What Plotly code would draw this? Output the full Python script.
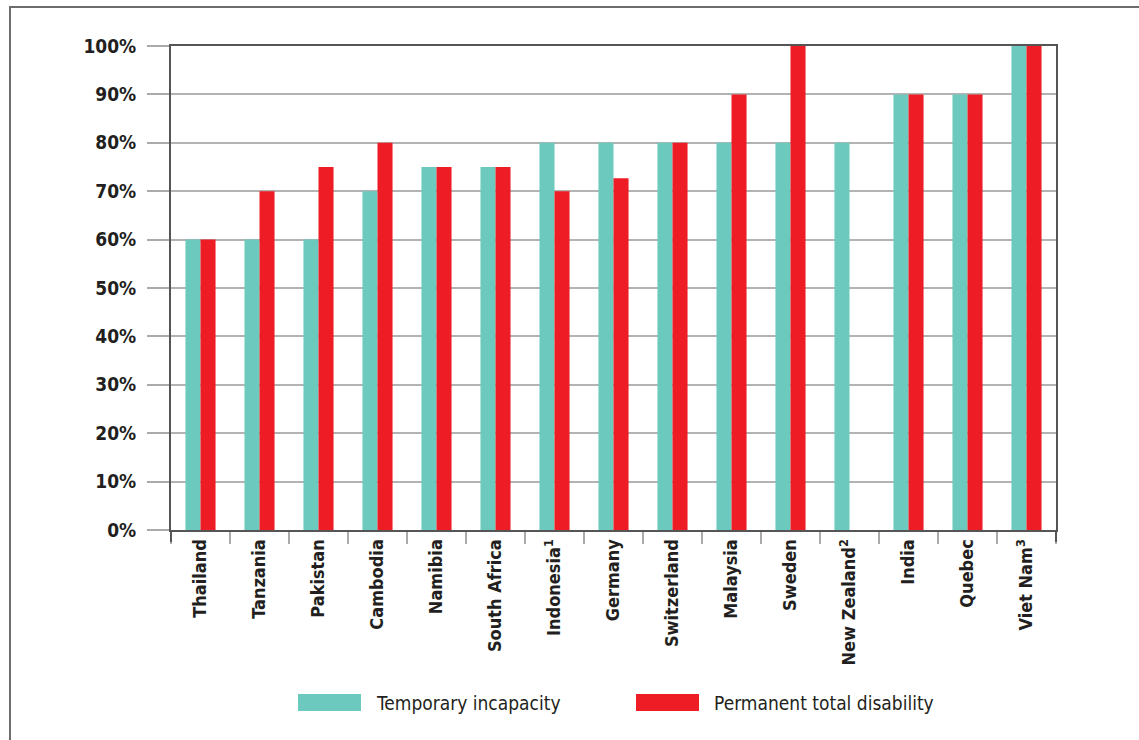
import plotly.graph_objects as go

# Replacement rates by country (% of insured earnings)
countries = [
    "Thailand", "Tanzania", "Pakistan", "Cambodia", "Namibia", "South Africa",
    "Indonesia<sup>1</sup>", "Germany", "Switzerland", "Malaysia", "Sweden",
    "New Zealand<sup>2</sup>", "India", "Quebec", "Viet Nam<sup>3</sup>",
]
temporary_incapacity = [60, 60, 60, 70, 75, 75, 80, 80, 80, 80, 80, 80, 90, 90, 100]
permanent_total_disability = [60, 70, 75, 80, 75, 75, 70, 72.7, 80, 90, 100, None, 90, 90, 100]

y_ticks = list(range(0, 101, 10))
y_tick_labels = [f"{v}%" for v in y_ticks]

TEAL = "#6cc9bd"
RED = "#ee1c25"
DARK = "#231f20"
FONT = "Liberation Sans Narrow, DejaVu Sans Condensed, DejaVu Sans, sans-serif"

fig = go.Figure()
fig.add_trace(go.Bar(name="Temporary incapacity", x=countries, y=temporary_incapacity,
                     marker=dict(color=TEAL, line=dict(width=0))))
fig.add_trace(go.Bar(name="Permanent total disability", x=countries, y=permanent_total_disability,
                     marker=dict(color=RED, line=dict(width=0))))

W, H = 1139, 740
L, R, T, B = 171, 83, 46, 210
pw, ph = W - L - R, H - T - B

def px_x(x):
    return (x - L) / pw

def px_y(y):
    return (H - B - y) / ph

shapes = [
    # outer frame
    dict(type="rect", xref="paper", yref="paper",
         x0=px_x(10), x1=px_x(1160), y0=px_y(7), y1=px_y(760),
         line=dict(color="#6d6d6d", width=2), fillcolor="rgba(0,0,0,0)", layer="below"),
    # dark end ticks below the x axis at both plot edges
    dict(type="line", xref="paper", yref="paper", x0=0, x1=0, y0=0, y1=px_y(542),
         line=dict(color="#555555", width=2)),
    dict(type="line", xref="paper", yref="paper", x0=1, x1=1, y0=0, y1=px_y(542),
         line=dict(color="#555555", width=2)),
]

annotations = []
legend_items = [("Temporary incapacity", TEAL, 298), ("Permanent total disability", RED, 636)]
for label, color, x0 in legend_items:
    shapes.append(dict(type="rect", xref="paper", yref="paper",
                       x0=px_x(x0), x1=px_x(x0 + 63), y0=px_y(694), y1=px_y(711),
                       fillcolor=color, line=dict(width=0)))
    annotations.append(dict(xref="paper", yref="paper", x=px_x(x0 + 76), y=px_y(703),
                            text=label, showarrow=False, xanchor="left", yanchor="middle",
                            font=dict(family=FONT, size=19, color=DARK)))

fig.update_layout(
    width=W, height=H,
    margin=dict(l=L, r=R, t=T, b=B, autoexpand=False),
    paper_bgcolor="white", plot_bgcolor="white",
    barmode="group", bargap=0.49, bargroupgap=0,
    showlegend=False,
    font=dict(family=FONT, color=DARK),
    shapes=shapes,
    annotations=annotations,
)

fig.update_xaxes(
    type="category",
    tickangle=-90,
    tickson="boundaries",
    ticks="outside", ticklen=12, tickwidth=2, tickcolor="#aaaaaa",
    showline=True, linecolor="#555555", linewidth=2, mirror=True,
    showgrid=False,
    tickfont=dict(family=FONT, size=18, color=DARK, weight="bold"),
)

fig.update_yaxes(
    range=[0, 100],
    tickvals=y_ticks, ticktext=y_tick_labels,
    ticks="outside", ticklen=22, tickwidth=2, tickcolor="#aaaaaa",
    showgrid=True, gridcolor="#b3b3b3", gridwidth=2,
    showline=True, linecolor="#555555", linewidth=2, mirror=True,
    zeroline=False,
    ticklabelstandoff=7,
    tickfont=dict(family=FONT, size=19, color=DARK, weight="bold"),
)

fig.write_html("out.html")
